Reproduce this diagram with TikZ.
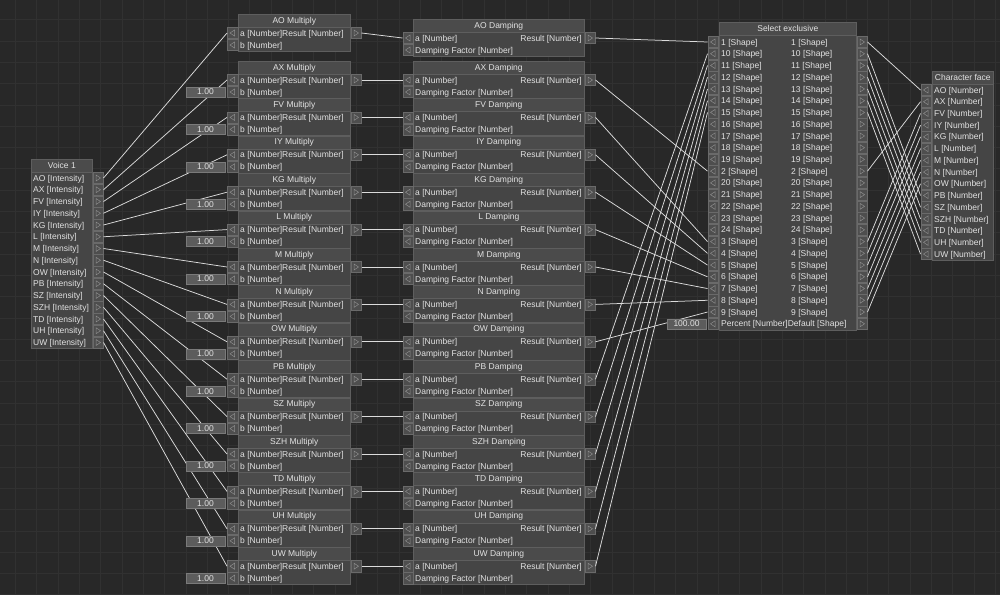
\documentclass[tikz,border=0pt]{standalone}
\usepackage{fontspec}
\setmainfont{Liberation Sans}
\definecolor{bg}{HTML}{282828}
\definecolor{gridc}{HTML}{313131}
\definecolor{bodyc}{HTML}{454545}
\definecolor{titlec}{HTML}{4B4B4B}
\definecolor{edgec}{HTML}{5E5E5E}
\definecolor{txt}{HTML}{E2E2E2}
\definecolor{portf}{HTML}{4E4E4E}
\definecolor{porte}{HTML}{6A6A6A}
\definecolor{tric}{HTML}{8C8C8C}
\definecolor{valf}{HTML}{5C5C5C}
\definecolor{vale}{HTML}{7A7A7A}
\definecolor{wirec}{HTML}{DCDCDC}
\tikzset{
  fnt/.style={font=\fontsize{8.5}{10}\selectfont, text=txt},
  blockbox/.style={rectangle, draw=edgec, fill=bodyc, inner sep=0, anchor=north west, line width=0.6pt},
  titlebox/.style={rectangle, draw=edgec, fill=titlec, inner sep=0, anchor=north west, line width=0.6pt, fnt},
  lbl/.style={inner sep=0, anchor=base west, fnt},
  rlbl/.style={inner sep=0, anchor=base east, fnt},
  port/.style={rectangle, minimum width=10.5pt, minimum height=11.2pt, inner sep=0, fill=portf, draw=porte, line width=0.5pt},
  inport/.style={port, path picture={\draw[tric,line width=0.5pt] ([xshift=2pt,yshift=3pt]path picture bounding box.center) -- ([xshift=-2.5pt]path picture bounding box.center) -- ([xshift=2pt,yshift=-3pt]path picture bounding box.center) -- cycle;}},
  outport/.style={port, path picture={\draw[tric,line width=0.5pt] ([xshift=-2pt,yshift=3pt]path picture bounding box.center) -- ([xshift=2.5pt]path picture bounding box.center) -- ([xshift=-2pt,yshift=-3pt]path picture bounding box.center) -- cycle;}},
  valbox/.style={rectangle, minimum width=39pt, minimum height=10pt, inner sep=0, fill=valf, draw=vale, line width=0.5pt, fnt},
  wire/.style={wirec, line width=0.75pt},
}
\begin{document}
\begin{tikzpicture}[x=1pt,y=-1pt]
\useasboundingbox (0,0) rectangle (1000,595);
\fill[bg] (0,0) rectangle (1000,595);
\foreach \gx in {0,...,47} \draw[gridc, line width=0.6pt] (15.4+21.3*\gx,0) -- (15.4+21.3*\gx,595);
\foreach \gy in {0,...,28} \draw[gridc, line width=0.6pt] (0,19.6+21.3*\gy) -- (1000,19.6+21.3*\gy);

% Voice 1
\node[blockbox, minimum width=61pt, minimum height=189pt] (voice) at (31,159) {};
\node[titlebox, minimum width=61pt, minimum height=13pt] (voicet) at (31,159) {Voice 1};
\foreach \nm [count=\i from 0] in {AO,AX,FV,IY,KG,L,M,N,OW,PB,SZ,SZH,TD,UH,UW} {
  \pgfmathsetmacro\yy{178+11.75*\i}
  \node[lbl] (vl-\nm) at (33,\yy+3.1) {\nm\ [Intensity]};
  \node[outport] (v-\nm) at (98,\yy) {};
}

% Multiply and Damping
\foreach \nm [count=\i from 0] in {AO,AX,FV,IY,KG,L,M,N,OW,PB,SZ,SZH,TD,UH,UW} {
  \ifnum\i=0 \def\T{14}\def\TD{19}\else \pgfmathsetmacro\T{61+37.4*(\i-1)}\let\TD\T\fi
  \node[blockbox, minimum width=112pt, minimum height=37pt] (mul-\nm) at (238,\T) {};
  \node[titlebox, minimum width=112pt, minimum height=13pt] (mult-\nm) at (238,\T) {\nm\ Multiply};
  \node[lbl] (mla-\nm) at (240,\T+22.1) {a [Number]Result [Number]};
  \node[lbl] (mlb-\nm) at (240,\T+34.1) {b [Number]};
  \node[inport] (ma-\nm) at (232.5,\T+19) {};
  \node[inport] (mb-\nm) at (232.5,\T+31) {};
  \node[outport] (mr-\nm) at (356,\T+19) {};
  \node[blockbox, minimum width=171pt, minimum height=37pt] (damp-\nm) at (413,\TD) {};
  \node[titlebox, minimum width=171pt, minimum height=13pt] (dampt-\nm) at (413,\TD) {\nm\ Damping};
  \node[lbl] (dla-\nm) at (415,\TD+22.1) {a [Number]};
  \node[rlbl] (dlr-\nm) at (582,\TD+22.1) {Result [Number]};
  \node[lbl] (dlf-\nm) at (415,\TD+34.1) {Damping Factor [Number]};
  \node[inport] (da-\nm) at (408,\TD+19) {};
  \node[inport] (df-\nm) at (408,\TD+31) {};
  \node[outport] (dr-\nm) at (590,\TD+19) {};
}

% Select exclusive
\node[blockbox, minimum width=137pt, minimum height=308pt] (sel) at (719,22) {};
\node[titlebox, minimum width=137pt, minimum height=13pt] (selt) at (719,22) {Select exclusive};
\foreach \lab [count=\j from 0] in {1,10,11,12,13,14,15,16,17,18,19,2,20,21,22,23,24,3,4,5,6,7,8,9} {
  \pgfmathsetmacro\yy{42+11.74*\j}
  \node[lbl] (sl-\lab) at (721,\yy+3.1) {\lab\ [Shape]};
  \node[lbl] (sr-\lab) at (791,\yy+3.1) {\lab\ [Shape]};
  \node[inport] (si-\lab) at (713,\yy) {};
  \node[outport] (so-\lab) at (862,\yy) {};
}
\node[lbl] (pct) at (721,326.9) {Percent [Number]Default [Shape]};
\node[inport] (sip) at (713,323.8) {};
\node[outport] (sod) at (862,323.8) {};

% Character face
\node[blockbox, minimum width=61pt, minimum height=189pt] (cf) at (932,71) {};
\node[titlebox, minimum width=61pt, minimum height=13pt] (cft) at (932,71) {Character face};
\foreach \nm [count=\i from 0] in {AO,AX,FV,IY,KG,L,M,N,OW,PB,SZ,SZH,TD,UH,UW} {
  \pgfmathsetmacro\yy{90+11.72*\i}
  \node[lbl] (cfl-\nm) at (934,\yy+3.1) {\nm\ [Number]};
  \node[inport] (cf-\nm) at (926,\yy) {};
}

% wires
\foreach \nm [count=\k] in {AO,AX,FV,IY,KG,L,M,N,OW,PB,SZ,SZH,TD,UH,UW} {
  \draw[wire] (v-\nm.east) -- (ma-\nm.west);
  \draw[wire] (mr-\nm.east) -- (da-\nm.west);
  \draw[wire] (dr-\nm.east) -- (si-\k.west);
  \draw[wire] (so-\k.east) -- (cf-\nm.west);
}

% value boxes
\foreach \nm [count=\i from 1] in {AX,FV,IY,KG,L,M,N,OW,PB,SZ,SZH,TD,UH,UW} {
  \pgfmathsetmacro\T{61+37.4*(\i-1)}
  \node[valbox] (mv-\nm) at (205.5,\T+31) {1.00};
}
\node[valbox] (selv) at (686.5,323.8) {100.00};
\end{tikzpicture}
\end{document}
